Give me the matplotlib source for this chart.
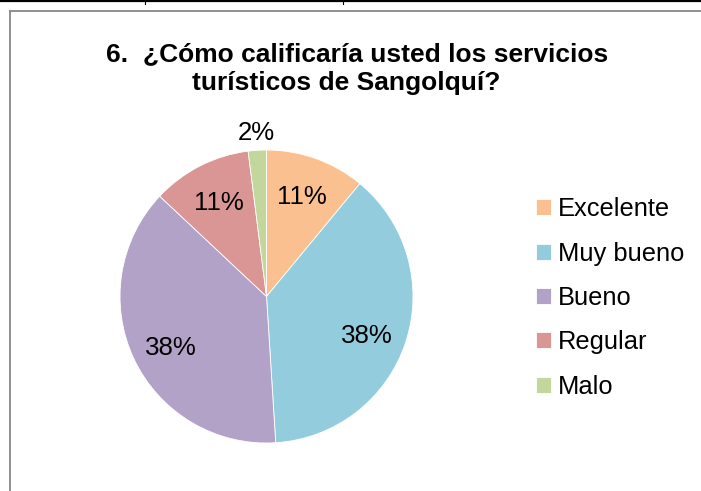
import numpy as np
import matplotlib
matplotlib.use("Agg")
import matplotlib.pyplot as plt
from matplotlib.lines import Line2D

plt.rcParams["font.family"] = ["Liberation Sans", "DejaVu Sans"]

CATEGORIAS = ["Excelente", "Muy bueno", "Bueno", "Regular", "Malo"]
PORCENTAJES = [11, 38, 38, 11, 2]
COLORES = ["#FAC090", "#93CDDD", "#B3A2C7", "#D99694", "#C3D69B"]
TITULO_1 = "6.  ¿Cómo calificaría usted los servicios"
TITULO_2 = "turísticos de Sangolquí?"

W, H = 701, 491
fig = plt.figure(figsize=(W / 100, H / 100), dpi=100)

# marco de la página / tabla
fig.add_artist(Line2D([0, 1], [1 - 1.2 / H, 1 - 1.2 / H], color="black", lw=1.6,
                      transform=fig.transFigure))
for xv in (145, 343):
    fig.add_artist(Line2D([xv / W, xv / W], [1, 1 - 4 / H], color="black", lw=0.8,
                          transform=fig.transFigure))
fig.add_artist(Line2D([9.5 / W, 1], [1 - 10.5 / H, 1 - 10.5 / H], color="#878787",
                      lw=1.3, transform=fig.transFigure))
fig.add_artist(Line2D([9.5 / W, 9.5 / W], [0, 1 - 10.5 / H], color="#878787",
                      lw=1.3, transform=fig.transFigure))

# pastel
cx, cy, r = 266.5, 296.5, 146.5
lado = 300
ax = fig.add_axes([(cx - lado / 2) / W, (H - cy - lado / 2) / H, lado / W, lado / H])
lim = lado / 2 / r
wedges, textos, auto = ax.pie(
    PORCENTAJES, colors=COLORES, startangle=90, counterclock=False,
    autopct="%1.0f%%", pctdistance=0.72,
    wedgeprops=dict(linewidth=0.6, edgecolor="white"),
    textprops=dict(fontsize=18.6, color="black"))
ax.set_xlim(-lim, lim)
ax.set_ylim(-lim, lim)
ax.set_aspect("equal")
ax.axis("off")

# la etiqueta de "Malo" va fuera
w = wedges[-1]
ang = np.deg2rad((w.theta1 + w.theta2) / 2)
auto[-1].set_position((1.12 * np.cos(ang), 1.12 * np.sin(ang)))
# las de 38% quedan un poco más abajo en el original
for t in auto[1:3]:
    x, y = t.get_position()
    t.set_position((x, y - 0.045))

# título
fig.text(357 / W, 1 - 61 / H, TITULO_1, ha="center", va="baseline",
         fontsize=19, fontweight="bold")
fig.text(346 / W, 1 - 90 / H, TITULO_2, ha="center", va="baseline",
         fontsize=19, fontweight="bold")

# leyenda
fig.legend(wedges, CATEGORIAS, loc="center left",
           bbox_to_anchor=(536 / W, 1 - 298 / H), frameon=False,
           fontsize=18.4, handlelength=0.59, handleheight=0.59,
           handletextpad=0.26, labelspacing=0.8, borderpad=0,
           borderaxespad=0)

fig.savefig("out.png", dpi=100)
